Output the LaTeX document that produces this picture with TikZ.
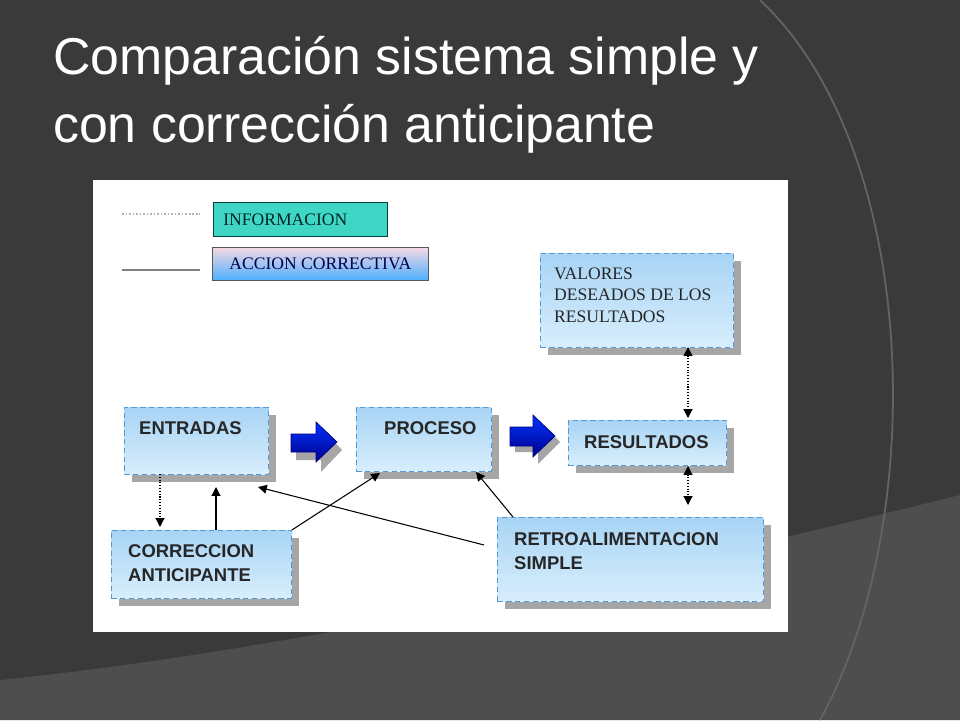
\documentclass[tikz,border=0pt]{standalone}
\usepackage{fontspec}
\setmainfont{Liberation Sans}
\newfontfamily\titlefont{Liberation Sans}
\newfontfamily\boxfont{Liberation Sans}
\newfontfamily\legfont{Liberation Serif}
\usetikzlibrary{arrows.meta,shadows}
\definecolor{bg}{HTML}{3A3A3A}
\definecolor{bglite}{HTML}{4E4E4E}
\definecolor{boxtop}{HTML}{A8D4F5}
\definecolor{boxbot}{HTML}{D8EEFC}
\definecolor{infofill}{HTML}{3FD6C6}
\tikzset{
  px/.style={x=0.02cm,y=-0.02cm},
  blk/.style={draw=cyan!60!blue!70,densely dashed,line width=0.5pt,
    top color=boxtop,bottom color=boxbot,
    drop shadow={shadow xshift=0.16cm,shadow yshift=-0.16cm,fill=gray!70,opacity=1},
    inner sep=0pt,anchor=north west},
  lbl/.style={font=\boxfont\bfseries\fontsize{10.5}{14}\selectfont,anchor=north west,align=left,text=black!85},
  barrowfill/.style={draw=blue!50!black,top color=blue!80!cyan,bottom color=blue!55!black},
  info/.style={densely dotted,-{Triangle[length=5pt,width=5pt]},line width=0.6pt},
  act/.style={-{Triangle[length=5pt,width=5pt]},line width=0.6pt},
  infoboth/.style={densely dotted,{Triangle[length=5pt,width=5pt]}-{Triangle[length=5pt,width=5pt]},line width=0.6pt}
}
\begin{document}
\begin{tikzpicture}[px]
\useasboundingbox (0,0) rectangle (960,720);
\fill[bg] (0,0) rectangle (960,720);
% background decoration
\fill[bglite] (0,720) -- (0,680) .. controls (300,650) and (700,560) .. (960,495) -- (960,720) -- cycle;
\draw[gray!60!bg,line width=1pt] (760,0) .. controls (920,150) and (930,520) .. (820,720);
% title
\node[anchor=north west,align=left,text=white,font=\titlefont\fontsize{29.5}{39}\selectfont] (title) at (47,30)
  {Comparación sistema simple y\\con corrección anticipante};
% white panel
\fill[white] (93,180) rectangle (788,632);
% legend
\coordinate (l1a) at (122,214); \coordinate (l1b) at (200,214);
\coordinate (l2a) at (122,270); \coordinate (l2b) at (200,270);
\draw[gray!60,densely dotted,line width=1pt] (l1a) -- (l1b);
\draw[gray,line width=1pt] (l2a) -- (l2b);
\node[draw=teal!50!black,fill=infofill,minimum width=3.48cm,minimum height=0.68cm,anchor=north west,
  font=\legfont\fontsize{10}{12}\selectfont,text=teal!30!black] (info) at (213,202) {\hspace*{-0.6cm}INFORMACION};
\node[draw=gray!70!black,top color=white!85!purple,bottom color=blue!45!cyan!70,minimum width=4.32cm,minimum height=0.66cm,anchor=north west,
  font=\legfont\fontsize{10}{12}\selectfont,text=blue!30!black] (acc) at (212,247) {ACCION CORRECTIVA};
% blocks
\node[blk,minimum width=3.86cm,minimum height=1.88cm] (val) at (540,253) {};
\node[lbl,font=\legfont\fontsize{10}{12}\selectfont,text=gray!30!black] at (548,262) {VALORES\\DESEADOS DE LOS\\RESULTADOS};
\node[blk,minimum width=2.88cm,minimum height=1.34cm] (ent) at (124,407) {};
\node[lbl] at (133,415) {ENTRADAS};
\node[blk,minimum width=2.7cm,minimum height=1.28cm] (pro) at (356,407) {};
\node[lbl] at (378,415) {PROCESO};
\node[blk,minimum width=3.16cm,minimum height=0.9cm] (res) at (568,420) {};
\node[lbl] at (578,429) {RESULTADOS};
\node[blk,minimum width=3.6cm,minimum height=1.36cm] (cor) at (111,530) {};
\node[lbl] at (122,538) {CORRECCION\\ANTICIPANTE};
\node[blk,minimum width=5.32cm,minimum height=1.68cm] (ret) at (497,517) {};
\node[lbl] at (508,526) {RETROALIMENTACION\\SIMPLE};
% block arrows
\fill[gray!70] (296,440) -- (321,440) -- (321,428) -- (342,450) -- (321,472) -- (321,460) -- (296,460) -- cycle;
\path[barrowfill] (291,434) -- (316,434) -- (316,422) -- (337,442) -- (316,462) -- (316,452) -- (291,452) -- cycle;
\fill[gray!70] (515,432) -- (538,432) -- (538,420) -- (560,442) -- (538,464) -- (538,452) -- (515,452) -- cycle;
\path[barrowfill] (510,427) -- (533,427) -- (533,415) -- (555,436) -- (533,457) -- (533,446) -- (510,446) -- cycle;
% connectors
\draw[info] (160,474) -- (160,527);
\draw[act] (216,530) -- (216,487);
\draw[act] (cor.north east) -- (380,473);
\draw[act] (484,545) -- (258,487);
\draw[act] (513,517) -- (476,472);
\draw[infoboth] (688,347) -- (688,418);
\draw[infoboth] (688,466) -- (688,505);
\end{tikzpicture}
\end{document}
